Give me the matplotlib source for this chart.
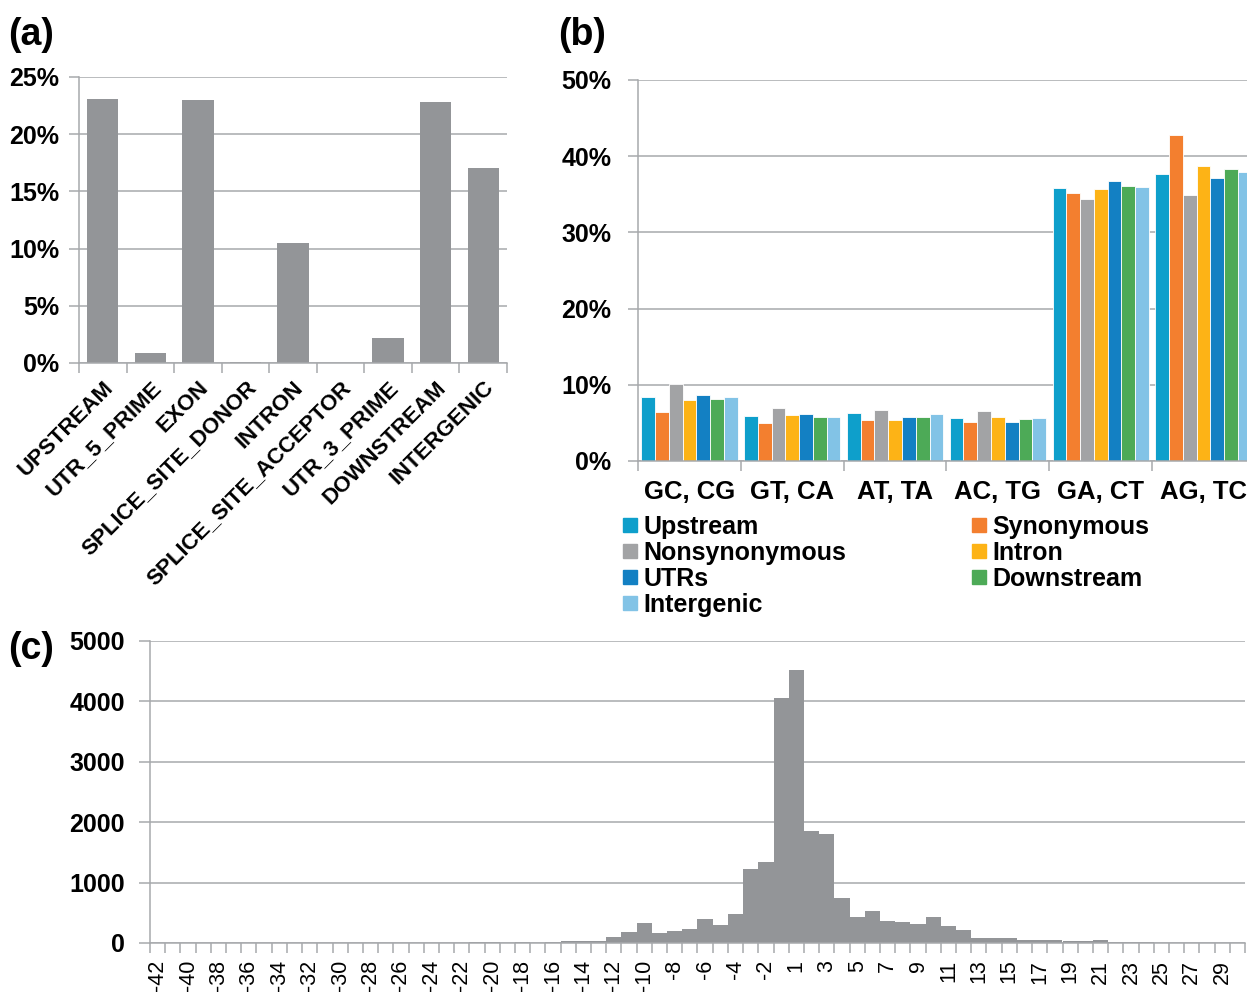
import numpy as np
import matplotlib
matplotlib.use("Agg")
import matplotlib.pyplot as plt
from matplotlib.lines import Line2D
from matplotlib.ticker import FuncFormatter, FixedLocator

plt.rcParams['font.family'] = ['Liberation Sans', 'DejaVu Sans']

# * Data
# (a) share of variants per region
region_names = ["UPSTREAM", "UTR_5_PRIME", "EXON", "SPLICE_SITE_DONOR", "INTRON",
                "SPLICE_SITE_ACCEPTOR", "UTR_3_PRIME", "DOWNSTREAM", "INTERGENIC"]
region_pct = [23.1, 0.87, 23.0, 0.06, 10.5, 0.02, 2.19, 22.84, 17.05]

# (b) substitution types per class
subst_types = ["GC, CG", "GT, CA", "AT, TA", "AC, TG", "GA, CT", "AG, TC"]
upstream = [8.38, 5.94, 6.24, 5.63, 35.85, 37.64]
synonymous = [6.38, 4.93, 5.37, 5.07, 35.20, 42.75]
nonsynonymous = [10.04, 6.94, 6.72, 6.51, 34.41, 34.93]
intron = [7.95, 6.07, 5.41, 5.72, 35.76, 38.65]
utrs = [8.69, 6.20, 5.81, 5.11, 36.77, 37.12]
downstream = [8.17, 5.72, 5.76, 5.46, 36.11, 38.38]
intergenic = [8.34, 5.72, 6.11, 5.59, 35.94, 37.99]

# (c) indel length histogram (no 0 bin)
indel_len = list(range(-42, 0)) + list(range(1, 31))
indel_count = [0, 0, 0, 0, 0, 0, 0, 0, 0, 0, 0, 0, 0, 0, 0, 0, 0, 0,
               3, 2, 3, 15, 15, 5, 15, 5, 20, 35, 35, 40, 100, 175, 325, 160,
               200, 230, 400, 300, 485, 1225, 1345, 4063,
               4515, 1847, 1808, 739, 430, 535, 364, 347, 320, 435, 281, 210,
               83, 88, 77, 55, 50, 50, 33, 33, 44, 11, 11, 15, 3, 2, 2, 1, 1, 1]

# * Style
W, H = 1247, 992
grid_c = '#A7A9AC'
bar_grey = '#939598'
fs = 18
classes = [("Upstream", upstream, '#0E9FCB'),
           ("Synonymous", synonymous, '#F37F2F'),
           ("Nonsynonymous", nonsynonymous, '#A2A3A5'),
           ("Intron", intron, '#FDB316'),
           ("UTRs", utrs, '#1380C3'),
           ("Downstream", downstream, '#4DAA57'),
           ("Intergenic", intergenic, '#82C3E6')]

fig = plt.figure(figsize=(W / 100, H / 100), dpi=100)


def px_axes(l, t, r, b):
    "axes from pixel box"
    return fig.add_axes([l / W, (H - b) / H, (r - l) / W, (b - t) / H])


def style(ax, ytick_len=7, ypad=6):
    ax.set_axisbelow(True)
    ax.yaxis.grid(True, color=grid_c, lw=1.1)
    for s in ['top', 'right']:
        ax.spines[s].set_visible(False)
    for s in ['left', 'bottom']:
        ax.spines[s].set_color(grid_c)
        ax.spines[s].set_linewidth(1.1)
    ax.tick_params(axis='y', length=ytick_len, color=grid_c, width=1.1, labelsize=fs, pad=ypad)
    ax.tick_params(axis='x', which='major', length=0)
    ax.tick_params(axis='x', which='minor', length=7, color=grid_c, width=1.1)
    for lab in ax.get_yticklabels():
        lab.set_fontweight('bold')


def pct(v, pos):
    return "%d%%" % v

# ** (a)
ax_a = px_axes(79, 77, 507, 363)
xa = np.arange(len(region_names))
ax_a.bar(xa, region_pct, width=0.66, color=bar_grey)
ax_a.set_xlim(-0.5, len(region_names) - 0.5)
ax_a.set_ylim(0, 25)
ax_a.set_yticks([0, 5, 10, 15, 20, 25])
ax_a.yaxis.set_major_formatter(FuncFormatter(pct))
ax_a.set_xticks(xa)
ax_a.xaxis.set_minor_locator(FixedLocator(np.arange(-0.5, len(region_names), 1)))
ax_a.set_xticklabels(region_names, rotation=45, ha='right', va='top',
                     rotation_mode='anchor', fontsize=16, fontweight='bold')
style(ax_a, ypad=7)
ax_a.tick_params(axis='x', which='major', pad=10)
for lab in ax_a.get_yticklabels():
    lab.set_fontweight('bold')

# ** (b)
ax_b = px_axes(638, 80, 1255, 461)
xb = np.arange(len(subst_types))
bw = 0.134
for i, (name, vals, col) in enumerate(classes):
    ax_b.bar(xb + (i - 3) * bw, vals, width=bw, color=col, edgecolor='white',
             linewidth=0.6, label=name)
ax_b.set_xlim(-0.5, len(subst_types) - 0.5)
ax_b.set_ylim(0, 50)
ax_b.set_yticks([0, 10, 20, 30, 40, 50])
ax_b.yaxis.set_major_formatter(FuncFormatter(pct))
ax_b.set_xticks(xb)
ax_b.xaxis.set_minor_locator(FixedLocator(np.arange(-0.5, len(subst_types), 1)))
ax_b.set_xticklabels(subst_types, fontsize=fs + 0.5, fontweight='bold')
style(ax_b, ypad=12)
ax_b.tick_params(axis='x', which='major', pad=14)
for lab in ax_b.get_yticklabels():
    lab.set_fontweight('bold')

# legend, column order like the original
order = [0, 2, 4, 6, 1, 3, 5]
handles = [Line2D([], [], ls='', marker='s', markersize=10, color=classes[k][2]) for k in order]
labels = [classes[k][0] for k in order]
fig.legend(handles, labels, ncol=2, loc='upper left', bbox_to_anchor=(622 / W, 1 - 515 / H),
           frameon=False, prop={'size': fs, 'weight': 'bold'}, handlelength=0.6,
           handletextpad=0.25, labelspacing=0.08, columnspacing=5.0, borderpad=0,
           borderaxespad=0)

# ** (c)
ax_c = px_axes(150, 641, 1245, 943)
xc = np.arange(len(indel_len))
ax_c.bar(xc, indel_count, width=1.0, color=bar_grey)
ax_c.set_xlim(-0.5, len(indel_len) - 0.5)
ax_c.set_ylim(0, 5000)
ax_c.set_yticks(range(0, 5001, 1000))
ax_c.set_xticks(xc[::2])
ax_c.xaxis.set_minor_locator(FixedLocator(np.arange(-0.5, len(indel_len), 1)))
ax_c.set_xticklabels([str(v) for v in indel_len[::2]], rotation=90, fontsize=15.5)
style(ax_c, ytick_len=8, ypad=10)
ax_c.tick_params(axis='x', which='major', pad=12)
for lab in ax_c.get_yticklabels():
    lab.set_fontweight('bold')

# ** panel letters
for x, y, s in [(8, 35, "(a)"), (558, 35, "(b)"), (8, 649, "(c)")]:
    fig.text(x / W, 1 - y / H, s, fontsize=27, fontweight='bold', va='center', ha='left')

fig.savefig("out.png", dpi=100)
